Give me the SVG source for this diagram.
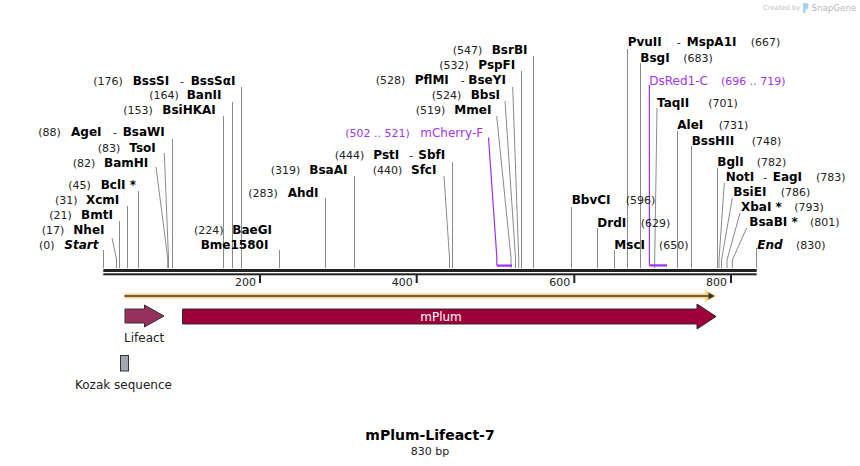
<svg xmlns="http://www.w3.org/2000/svg" width="860" height="466" viewBox="0 0 860 466">
<style>
text{font-family:"DejaVu Sans",Verdana,sans-serif}
.n{font-size:11px;fill:#222}
.f{font-size:12px;fill:#222}
.e{font-size:12px;font-weight:bold;fill:#000}
.i{font-style:italic}
.pn{font-size:11px;fill:#a035ee}
.pe{font-size:12px;fill:#a035ee}
.l{stroke:#8a8a8a;stroke-width:1;fill:none}
.pl{stroke:#9b30f0;stroke-width:1.2;fill:none}
.pb{stroke:#9b30f0;stroke-width:2.2;fill:none}
.tick{fill:#222}
</style>
<rect x="0" y="0" width="860" height="466" fill="#fff"/>

<g id="watermark">
<text x="763" y="10" style="font-size:6.8px;fill:#c4c4c4">Created by</text>
<path d="M803 3 h3 a2.5 2.5 0 0 1 2.5 2.5 v1.5 a2.5 2.5 0 0 1 -2.5 2.5 h-0.5 v3.5 h-2.5 z" fill="#a8d2f2"/>
<text x="811.5" y="11" style="font-size:8.7px;fill:#b9b9b9">SnapGene</text>
</g>

<g id="connectors">
<path class="l" d="M103.5 250V268"/>
<path class="l" d="M112 238L116.5 259V268"/>
<path class="l" d="M119.5 221V268"/>
<path class="l" d="M127.5 206V268"/>
<path class="l" d="M138.5 191V268"/>
<path class="l" d="M156 167L167.7 258V268"/>
<path class="l" d="M164.3 153L168.5 258V268"/>
<path class="l" d="M172.5 139V268"/>
<path class="l" d="M223.5 116V268"/>
<path class="l" d="M232.5 102V268"/>
<path class="l" d="M241.5 87V268"/>
<path class="l" d="M279.5 250V268"/>
<path class="l" d="M325.5 198V268"/>
<path class="l" d="M354.5 176V268"/>
<path class="l" d="M444 176L449.5 258V268"/>
<path class="l" d="M452.5 162V268"/>
<path class="l" d="M496.7 116L511 258V268"/>
<path class="l" d="M505 101L515.5 258V268"/>
<path class="l" d="M512.7 87L518.7 258V268"/>
<path class="l" d="M521.5 71V268"/>
<path class="l" d="M533.5 56V268"/>
<path class="l" d="M571.5 207V268"/>
<path class="l" d="M597.5 228V268"/>
<path class="l" d="M614.5 250V268"/>
<path class="l" d="M627.5 49V268"/>
<path class="l" d="M640.5 63V268"/>
<path class="l" d="M657 108L654.7 262V268"/>
<path class="l" d="M677.5 131V268"/>
<path class="l" d="M691.5 146V268"/>
<path class="l" d="M717.5 168V268"/>
<path class="l" d="M724.3 183L719 260V268"/>
<path class="l" d="M732.3 198L721.5 260V268"/>
<path class="l" d="M740 213L727 260V268"/>
<path class="l" d="M746.7 228L732.3 260V268"/>
<path class="l" d="M756.5 248V268"/>
<path class="pl" d="M488.5 137.5L496.8 256.7V265"/>
<path class="pb" d="M496.7 265.6H512"/>
<path class="pl" d="M649.4 85V265"/>
<path class="pb" d="M649.3 265.4H667"/>
</g>

<g id="backbone">
<rect x="103.3" y="269" width="653.4" height="3" fill="#222"/>
<rect x="103.3" y="273.3" width="653.4" height="2" fill="#222"/>
<rect class="tick" x="259" y="274" width="2" height="9"/>
<rect class="tick" x="415.7" y="274" width="2" height="9"/>
<rect class="tick" x="573.3" y="274" width="2" height="9"/>
<rect class="tick" x="730" y="274" width="2" height="9"/>
<text class="n" x="256" y="286" text-anchor="end">200</text>
<text class="n" x="412.7" y="286" text-anchor="end">400</text>
<text class="n" x="570.3" y="286" text-anchor="end">600</text>
<text class="n" x="727" y="286" text-anchor="end">800</text>
</g>

<g id="orf">
<line x1="124.3" y1="296" x2="710" y2="296" stroke="#fdd27c" stroke-width="5"/>
<polygon points="705,290 717,296 705,302" fill="#fdd27c"/>
<line x1="124.5" y1="296" x2="710" y2="296" stroke="#3a3a3a" stroke-width="1.5"/>
<polygon points="708.5,292.5 714.5,296 708.5,299.5" fill="#333"/>
</g>

<g id="Lifeact">
<polygon points="125,309 144.5,309 144.5,305 164,316 144.5,327 144.5,323 125,323" fill="#96305f" stroke="#333" stroke-width="1"/>
<text class="f" x="124" y="342">Lifeact</text>
</g>
<g id="mPlum">
<polygon points="182.5,309 697,309 697,304 716,316.5 697,329 697,324 182.5,324" fill="#a0003a" stroke="#2a2a2a" stroke-width="1"/>
<text x="441" y="320.5" text-anchor="middle" style="font-size:12px;fill:#fff">mPlum</text>
</g>
<g id="Kozak">
<rect x="120.5" y="355.5" width="8" height="15.5" fill="#a2a8b0" stroke="#333" stroke-width="1"/>
<text class="f" x="75" y="389">Kozak sequence</text>
</g>

<g id="site-Start"><text class="n" x="39" y="249">(0)</text><text class="e i" x="64.3" y="249">Start</text></g>
<g id="site-NheI"><text class="n" x="41.7" y="234">(17)</text><text class="e" x="73.3" y="234">NheI</text></g>
<g id="site-BmtI"><text class="n" x="49.3" y="219">(21)</text><text class="e" x="81" y="219">BmtI</text></g>
<g id="site-XcmI"><text class="n" x="55" y="204">(31)</text><text class="e" x="86" y="204">XcmI</text></g>
<g id="site-BclI"><text class="n" x="68.3" y="189">(45)</text><text class="e" x="100.7" y="189">BclI *</text></g>
<g id="site-BamHI"><text class="n" x="72.7" y="167">(82)</text><text class="e" x="104" y="167">BamHI</text></g>
<g id="site-TsoI"><text class="n" x="97.7" y="152">(83)</text><text class="e" x="129.3" y="152">TsoI</text></g>
<g id="site-AgeI"><text class="n" x="38.3" y="136">(88)</text><text class="e" x="71" y="136">AgeI</text><text class="n" x="113" y="136">-</text><text class="e" x="122.7" y="136">BsaWI</text></g>
<g id="site-BsiHKAI"><text class="n" x="123.3" y="114">(153)</text><text class="e" x="162.3" y="114">BsiHKAI</text></g>
<g id="site-BanII"><text class="n" x="149.3" y="99">(164)</text><text class="e" x="186.7" y="99">BanII</text></g>
<g id="site-BssSI"><text class="n" x="93.3" y="85">(176)</text><text class="e" x="132.7" y="85">BssSI</text><text class="n" x="180" y="85">-</text><text class="e" x="190.7" y="85">BssSαI</text></g>
<g id="site-BaeGI"><text class="n" x="194" y="234">(224)</text><text class="e" x="232.3" y="234">BaeGI</text><text class="e" x="200.7" y="249">Bme1580I</text></g>
<g id="site-AhdI"><text class="n" x="248.3" y="197">(283)</text><text class="e" x="287.7" y="197">AhdI</text></g>
<g id="site-BsaAI"><text class="n" x="270.7" y="174">(319)</text><text class="e" x="309.3" y="174">BsaAI</text></g>
<g id="site-SfcI"><text class="n" x="372.7" y="174">(440)</text><text class="e" x="411" y="174">SfcI</text></g>
<g id="site-PstI"><text class="n" x="334.7" y="159">(444)</text><text class="e" x="373.3" y="159">PstI</text><text class="n" x="409.3" y="159">-</text><text class="e" x="418.3" y="159">SbfI</text></g>
<g id="primer-mCherry-F"><text class="pn" x="345.3" y="137">(502 .. 521)</text><text class="pe" x="420.3" y="137">mCherry-F</text></g>
<g id="site-MmeI"><text class="n" x="415.7" y="114">(519)</text><text class="e" x="454.3" y="114">MmeI</text></g>
<g id="site-BbsI"><text class="n" x="431.7" y="99">(524)</text><text class="e" x="470.7" y="99">BbsI</text></g>
<g id="site-PflMI"><text class="n" x="375.7" y="84">(528)</text><text class="e" x="414.7" y="84">PflMI</text><text class="n" x="460.7" y="84">-</text><text class="e" x="468.3" y="84">BseYI</text></g>
<g id="site-PspFI"><text class="n" x="439.3" y="69">(532)</text><text class="e" x="478.3" y="69">PspFI</text></g>
<g id="site-BsrBI"><text class="n" x="452.7" y="54">(547)</text><text class="e" x="491.7" y="54">BsrBI</text></g>

<g id="site-BbvCI"><text class="e" x="571.7" y="204">BbvCI</text><text class="n" x="625.7" y="204">(596)</text></g>
<g id="site-DrdI"><text class="e" x="597.3" y="227">DrdI</text><text class="n" x="640.7" y="227">(629)</text></g>
<g id="site-MscI"><text class="e" x="614.3" y="249">MscI</text><text class="n" x="659" y="249">(650)</text></g>
<g id="site-PvuII"><text class="e" x="627.7" y="46">PvuII</text><text class="n" x="676.7" y="46">-</text><text class="e" x="686.7" y="46">MspA1I</text><text class="n" x="750.7" y="46">(667)</text></g>
<g id="site-BsgI"><text class="e" x="640.3" y="62">BsgI</text><text class="n" x="683.3" y="62">(683)</text></g>
<g id="primer-DsRed1-C"><text class="pe" x="649.3" y="85">DsRed1-C</text><text class="pn" x="721" y="85">(696 .. 719)</text></g>
<g id="site-TaqII"><text class="e" x="657" y="107">TaqII</text><text class="n" x="708.3" y="107">(701)</text></g>
<g id="site-AleI"><text class="e" x="677.3" y="129">AleI</text><text class="n" x="718.7" y="129">(731)</text></g>
<g id="site-BssHII"><text class="e" x="691.7" y="145">BssHII</text><text class="n" x="751.7" y="145">(748)</text></g>
<g id="site-BglI"><text class="e" x="717.3" y="166">BglI</text><text class="n" x="756.7" y="166">(782)</text></g>
<g id="site-NotI"><text class="e" x="725.7" y="181">NotI</text><text class="n" x="763.3" y="181">-</text><text class="e" x="772.7" y="181">EagI</text><text class="n" x="816" y="181">(783)</text></g>
<g id="site-BsiEI"><text class="e" x="733.3" y="196">BsiEI</text><text class="n" x="780.7" y="196">(786)</text></g>
<g id="site-XbaI"><text class="e" x="741" y="211">XbaI *</text><text class="n" x="794.3" y="211">(793)</text></g>
<g id="site-BsaBI"><text class="e" x="749.3" y="226">BsaBI *</text><text class="n" x="810" y="226">(801)</text></g>
<g id="site-End"><text class="e i" x="757.3" y="249">End</text><text class="n" x="796" y="249">(830)</text></g>

<g id="title">
<text x="430" y="440" text-anchor="middle" style="font-size:14px;font-weight:bold;fill:#000">mPlum-Lifeact-7</text>
<text class="n" x="430" y="455" text-anchor="middle">830 bp</text>
</g>
</svg>
